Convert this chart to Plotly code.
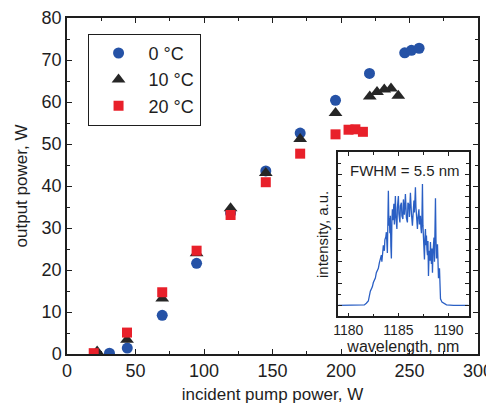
import plotly.graph_objects as go

# ---- main data: incident pump power (W) vs output power (W)
x_0C = [31, 44, 69.5, 94.6, 119.4, 145.1, 170.2, 196.0, 220.8, 246.5, 251.4, 257.0]
y_0C = [0.2, 1.4, 9.2, 21.6, 33.6, 43.6, 52.6, 60.4, 66.8, 71.7, 72.3, 72.8]

x_10C = [22, 43.8, 69.5, 94.6, 119.4, 145.1, 170.2, 196.0, 221.0, 226.3, 231.6, 236.5, 241.8]
y_10C = [0.6, 3.4, 13.2, 24.0, 34.7, 43.1, 51.2, 57.4, 61.3, 62.4, 63.0, 63.2, 61.5]

x_20C = [19.5, 43.8, 69.5, 94.6, 119.4, 145.1, 170.2, 196.0, 205.5, 210.5, 216.0]
y_20C = [0.2, 5.1, 14.7, 24.6, 33.1, 40.9, 47.7, 52.3, 53.4, 53.5, 52.9]

names = ["0 °C", "10 °C", "20 °C"]

# ---- inset spectrum: wavelength (nm) vs intensity (a.u.)
wl = [1179.0, 1180.0, 1181.0, 1181.6, 1181.8, 1182.0, 1182.2, 1182.4, 1182.5, 1182.7,
      1182.8, 1183.0, 1183.1, 1183.2, 1183.3, 1183.35, 1183.45, 1183.5, 1183.6, 1183.65,
      1183.75, 1183.8, 1183.9, 1183.95, 1184.0, 1184.05, 1184.1, 1184.15, 1184.2, 1184.25,
      1184.3, 1184.35, 1184.4, 1184.45, 1184.5, 1184.55, 1184.6, 1184.65, 1184.7, 1184.75,
      1184.85, 1184.9, 1185.0, 1185.05, 1185.15, 1185.2, 1185.3, 1185.35, 1185.45, 1185.5,
      1185.55, 1185.6, 1185.7, 1185.75, 1185.8, 1185.9, 1185.95, 1186.05, 1186.1, 1186.2,
      1186.25, 1186.3, 1186.4, 1186.45, 1186.55, 1186.6, 1186.7, 1186.75, 1186.8, 1186.9,
      1186.95, 1187.05, 1187.1, 1187.2, 1187.25, 1187.3, 1187.35, 1187.4, 1187.45, 1187.5,
      1187.55, 1187.6, 1187.65, 1187.7, 1187.75, 1187.8, 1187.85, 1187.9, 1187.95, 1188.0,
      1188.05, 1188.1, 1188.15, 1188.2, 1188.25, 1188.3, 1188.35, 1188.4, 1188.45, 1188.5,
      1188.55, 1188.6, 1188.65, 1188.7, 1188.75, 1188.8, 1188.85, 1188.9, 1188.95, 1189.0,
      1189.1, 1189.2, 1189.35, 1189.5, 1189.8, 1190.5, 1191.5, 1192.0]
inten = [1.0, 1.0, 1.0, 1.05, 1.2, 1.4, 2.3, 2.7, 3.1, 3.5,
         4.0, 4.4, 4.9, 5.3, 5.6, 5.0, 6.2, 6.5, 6.0, 7.0,
         7.3, 7.7, 5.8, 8.4, 11.5, 8.3, 9.0, 7.6, 9.2, 6.4,
         5.3, 8.6, 9.8, 8.8, 9.5, 10.3, 8.4, 10.0, 11.0, 9.1,
         8.0, 9.9, 11.0, 9.4, 8.6, 10.1, 10.4, 9.2, 8.9, 10.7,
         10.0, 9.3, 11.2, 9.8, 9.0, 8.6, 10.4, 10.2, 9.1, 11.3,
         9.9, 9.4, 8.3, 9.7, 10.6, 9.5, 11.8, 10.0, 9.3, 8.0,
         9.0, 9.8, 8.4, 9.2, 8.1, 7.6, 9.0, 12.1, 8.3, 7.0,
         6.2, 5.2, 7.1, 8.0, 6.5, 7.4, 6.1, 5.6, 6.9, 3.7,
         5.4, 6.0, 5.1, 6.8, 5.5, 4.8, 6.2, 4.0, 5.8, 6.3,
         7.2, 5.0, 6.9, 10.8, 7.0, 5.3, 6.0, 6.6, 4.9, 3.5,
         4.4, 1.6, 1.3, 1.2, 1.05, 1.0, 1.0, 1.0]

FONT = "Liberation Sans, Arial, sans-serif"
INK = "#1e1e1e"

fig = go.Figure()
fig.add_trace(go.Scatter(x=x_0C, y=y_0C, mode="markers", name=names[0],
                         marker=dict(symbol="circle", size=11, color="#2552a6")))
fig.add_trace(go.Scatter(x=x_10C, y=y_10C, mode="markers", name=names[1],
                         marker=dict(symbol="triangle-up", size=12, color="#262626")))
fig.add_trace(go.Scatter(x=x_20C, y=y_20C, mode="markers", name=names[2],
                         marker=dict(symbol="square", size=10, color="#e8202a")))
fig.add_trace(go.Scatter(x=wl, y=inten, mode="lines", xaxis="x2", yaxis="y2",
                         showlegend=False, line=dict(color="#2a5fc4", width=1.3)))

axis_common = dict(showline=True, linecolor=INK, linewidth=1.5, mirror="ticks",
                   ticks="inside", tickcolor=INK, showgrid=False, zeroline=False,
                   automargin=False, ticklabeloverflow="allow")

# page has an 8 px body margin, so the figure is sized/offset to compensate
fig.update_layout(
    width=486, height=404,
    margin=dict(l=59, r=16, t=10, b=58),
    paper_bgcolor="white", plot_bgcolor="white",
    font=dict(family=FONT, color=INK, size=18),
    xaxis=dict(range=[0, 300], dtick=50, tick0=0, ticklen=5,
               minor=dict(dtick=25, ticks="inside", ticklen=3, tickcolor=INK),
               tickfont=dict(size=18),
               title=dict(text="incident pump power, W", font=dict(size=17), standoff=8),
               domain=[0, 1], **axis_common),
    yaxis=dict(range=[0, 80], dtick=10, tick0=0, ticklen=5,
               minor=dict(dtick=5, ticks="inside", ticklen=3, tickcolor=INK),
               tickfont=dict(size=18),
               title=dict(text="output power, W", font=dict(size=17), standoff=10),
               domain=[0, 1], **axis_common),
    xaxis2=dict(range=[1179, 1192], dtick=5, tick0=1180, ticklen=4, anchor="y2",
                domain=[0.660, 0.977],
                minor=dict(dtick=2.5, ticks="inside", ticklen=3, tickcolor=INK),
                tickfont=dict(size=14),
                title=dict(text="wavelength, nm", font=dict(size=16), standoff=0),
                **axis_common),
    yaxis2=dict(range=[0, 15], dtick=2, tick0=1, ticklen=4, anchor="x2",
                domain=[0.112, 0.600], showticklabels=False,
                minor=dict(dtick=1, ticks="inside", ticklen=3, tickcolor=INK),
                title=dict(text="intensity, a.u.", font=dict(size=15), standoff=4),
                **axis_common),
    legend=dict(x=0.05, y=0.953, xanchor="left", yanchor="top",
                bgcolor="white", bordercolor=INK, borderwidth=1,
                font=dict(size=18), itemwidth=50),
    annotations=[dict(text="FWHM = 5.5 nm", x=1185.7, y=13.3, xref="x2", yref="y2",
                      showarrow=False, font=dict(size=15, color=INK))],
)

fig.write_html("out.html")
